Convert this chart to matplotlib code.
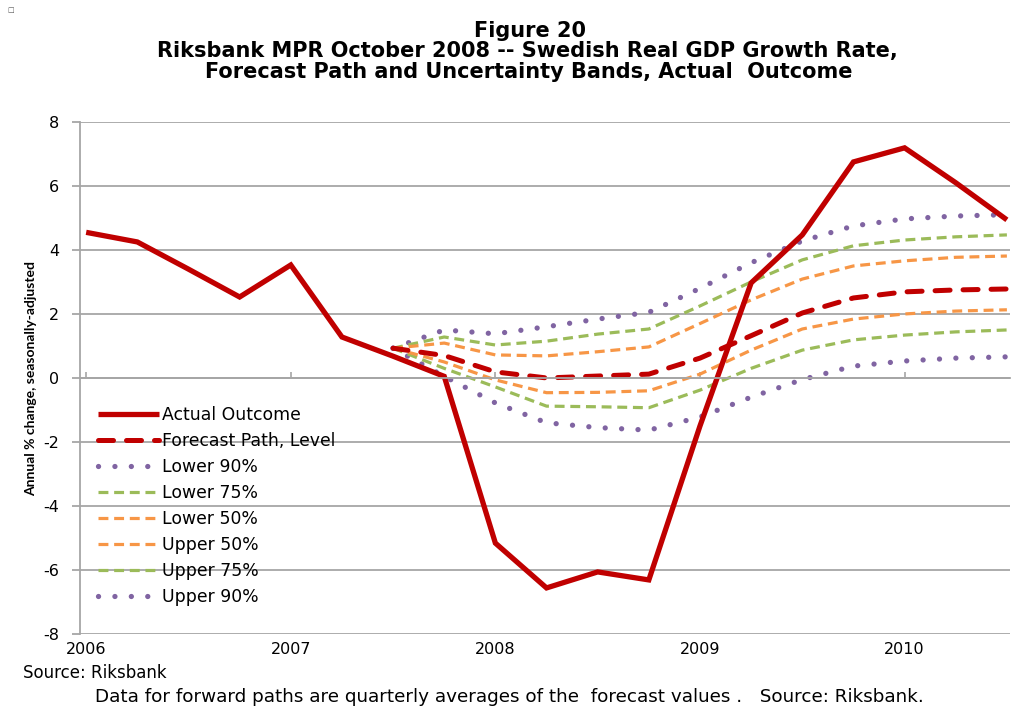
import matplotlib
matplotlib.use("Agg")
import matplotlib.pyplot as plt

# quarterly positions (decimal years)
quarters = [2006.0, 2006.25, 2006.5, 2006.75, 2007.0, 2007.25, 2007.5, 2007.75,
            2008.0, 2008.25, 2008.5, 2008.75, 2009.0, 2009.25, 2009.5, 2009.75,
            2010.0, 2010.25, 2010.5]
actual = [4.55, 4.25, 3.4, 2.53, 3.53, 1.28, 0.68, 0.05,
          -5.16, -6.56, -6.06, -6.31, -1.5, 2.97, 4.47, 6.75,
          7.19, 6.1, 4.94]

# forecast paths start at 2007.5
fc_quarters = quarters[6:]
forecast = [0.93, 0.70, 0.19, 0.0, 0.06, 0.12, 0.62, 1.32, 2.03, 2.5, 2.69, 2.75, 2.78]
lower90 = [0.93, 0.05, -0.78, -1.4, -1.55, -1.63, -1.22, -0.6, -0.05, 0.37, 0.53, 0.62, 0.66]
lower75 = [0.93, 0.30, -0.28, -0.88, -0.9, -0.93, -0.38, 0.3, 0.87, 1.19, 1.34, 1.44, 1.5]
lower50 = [0.93, 0.50, -0.06, -0.46, -0.45, -0.4, 0.12, 0.87, 1.53, 1.84, 2.0, 2.09, 2.13]
upper50 = [0.93, 1.09, 0.72, 0.69, 0.82, 0.97, 1.7, 2.44, 3.09, 3.5, 3.66, 3.77, 3.81]
upper75 = [0.93, 1.28, 1.03, 1.15, 1.37, 1.53, 2.25, 3.0, 3.69, 4.13, 4.31, 4.41, 4.47]
upper90 = [0.93, 1.50, 1.38, 1.6, 1.84, 2.05, 2.8, 3.6, 4.28, 4.75, 4.97, 5.06, 5.1]

year_ticks = [2006, 2007, 2008, 2009, 2010]
y_ticks = [-8, -6, -4, -2, 0, 2, 4, 6, 8]

red = "#C00000"
purple = "#8064A2"
green = "#9BBB59"
orange = "#F79646"
grid_col = "#A6A6A6"

fig = plt.figure(figsize=(10.13, 7.08), dpi=100)
ax = fig.add_axes([0.079, 0.1045, 0.918, 0.7233])

dot = dict(linestyle=(0, (0.01, 3.1)), dash_capstyle="round", linewidth=3.8, color=purple)
dsh = dict(linestyle=(0, (3.1, 1.8)), dash_capstyle="butt", linewidth=2.3)

h_l90, = ax.plot(fc_quarters, lower90, **dot)
h_u90, = ax.plot(fc_quarters, upper90, **dot)
h_l75, = ax.plot(fc_quarters, lower75, color=green, **dsh)
h_u75, = ax.plot(fc_quarters, upper75, color=green, **dsh)
h_l50, = ax.plot(fc_quarters, lower50, color=orange, **dsh)
h_u50, = ax.plot(fc_quarters, upper50, color=orange, **dsh)
h_fc, = ax.plot(fc_quarters, forecast, color=red, linewidth=3.6,
                linestyle=(0, (3.0, 2.6)), dash_capstyle="round")
h_act, = ax.plot(quarters, actual, color=red, linewidth=3.8,
                 solid_joinstyle="miter", solid_capstyle="butt")

ax.set_xlim(2005.97, 2010.515)
ax.set_ylim(-8, 8)
ax.set_yticks(y_ticks)
ax.set_yticklabels([str(v) for v in y_ticks], fontsize=11.5, family="DejaVu Sans")
ax.yaxis.grid(True, color=grid_col, linewidth=1.3)
ax.set_axisbelow(True)

for s in ["top", "right"]:
    ax.spines[s].set_visible(False)
ax.spines["left"].set_color(grid_col)
ax.spines["left"].set_linewidth(1.3)
ax.tick_params(axis="y", color=grid_col, length=6, width=1.3, pad=9)

# horizontal axis line crosses at zero, labels stay at the bottom
ax.spines["bottom"].set_position(("data", 0))
ax.spines["bottom"].set_color(grid_col)
ax.spines["bottom"].set_linewidth(1.3)
ax.set_xticks(year_ticks)
ax.tick_params(axis="x", color=grid_col, length=4, width=1.2, direction="in", labelbottom=False)
sec = ax.secondary_xaxis("bottom")
sec.set_xticks(year_ticks)
sec.set_xticklabels([str(y) for y in year_ticks], fontsize=11.5, family="DejaVu Sans")
sec.tick_params(length=0, pad=6)
sec.spines["bottom"].set_visible(False)

fig.text(0.031, 0.465, "Annual % change, seasonally-adjusted", rotation=90,
         ha="center", va="center", fontsize=10, fontweight="bold", family=["Lato", "DejaVu Sans"])

handles = [h_act, h_fc, h_l90, h_l75, h_l50, h_u50, h_u75, h_u90]
labels = ["Actual Outcome", "Forecast Path, Level", "Lower 90%", "Lower 75%",
          "Lower 50%", "Upper 50%", "Upper 75%", "Upper 90%"]
ax.legend(handles, labels, loc="upper left", bbox_to_anchor=(0.097, 0.427),
          bbox_transform=fig.transFigure, frameon=False, prop={"family": "DejaVu Sans", "size": 12.4},
          handlelength=3.5, handletextpad=0.23, labelspacing=0.47, borderpad=0, borderaxespad=0)

title_kw = dict(ha="center", va="baseline", fontsize=15, fontweight="bold", family="DejaVu Sans")
fig.text(0.523, 0.9477, "Figure 20", **title_kw)
fig.text(0.521, 0.9195, "Riksbank MPR October 2008 -- Swedish Real GDP Growth Rate,", **title_kw)
fig.text(0.522, 0.8898, "Forecast Path and Uncertainty Bands, Actual  Outcome", **title_kw)

fig.text(0.023, 0.0424, "Source: Riksbank", ha="left", va="baseline", fontsize=12, family="DejaVu Sans")
fig.text(0.094, 0.0085, "Data for forward paths are quarterly averages of the  forecast values .   Source: Riksbank.",
         ha="left", va="baseline", fontsize=13.2, family="DejaVu Sans")
fig.text(0.007, 0.99, "\u25A1", ha="left", va="top", fontsize=5, color="#555555")

fig.savefig("out.png", dpi=100)
